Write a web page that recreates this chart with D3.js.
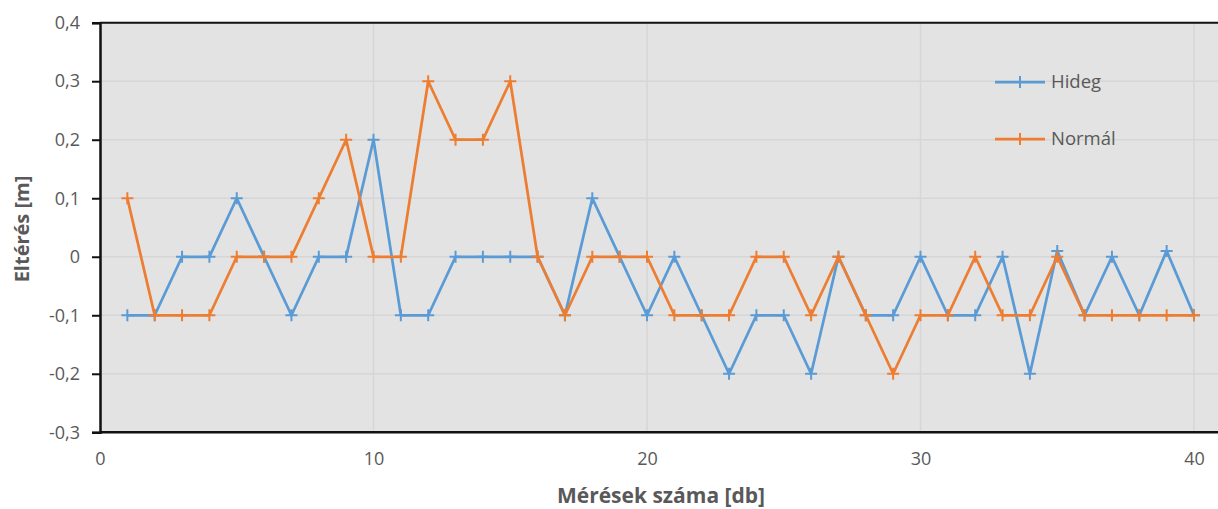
<!DOCTYPE html>
<html>
<head>
<meta charset="utf-8">
<script src="https://cdn.jsdelivr.net/npm/d3@7"></script>
<style>
  body { margin: 0; background: #fff; }
  text { font-family: "Open Sans", "Liberation Sans", sans-serif; fill: #595959; }
</style>
</head>
<body>
<div id="chart"></div>
<script>
const measurements = d3.range(1, 41);
const hideg = [-0.1, -0.1, 0, 0, 0.1, 0, -0.1, 0, 0, 0.2,
               -0.1, -0.1, 0, 0, 0, 0, -0.1, 0.1, 0, -0.1,
               0, -0.1, -0.2, -0.1, -0.1, -0.2, 0, -0.1, -0.1, 0,
               -0.1, -0.1, 0, -0.2, 0.01, -0.1, 0, -0.1, 0.01, -0.1];
const normal = [0.1, -0.1, -0.1, -0.1, 0, 0, 0, 0.1, 0.2, 0,
                0, 0.3, 0.2, 0.2, 0.3, 0, -0.1, 0, 0, 0,
                -0.1, -0.1, -0.1, 0, 0, -0.1, 0, -0.1, -0.2, -0.1,
                -0.1, 0, -0.1, -0.1, 0, -0.1, -0.1, -0.1, -0.1, -0.1];
const seriesNames = ["Hideg", "Normál"];
const xTicks = [0, 10, 20, 30, 40];
const yTicks = [-0.3, -0.2, -0.1, 0, 0.1, 0.2, 0.3, 0.4];

const width = 1218;
const height = 509;
const colors = ["#5B9BD5", "#ED7D31"];

const svg = d3.select("#chart")
    .append("svg")
    .attr("width", width)
    .attr("height", height);

const x = d3.scaleLinear().domain([0, 40]).range([100, 1194]);
const y = d3.scaleLinear().domain([-0.3, 0.4]).range([432.3, 22.7]);

// plot area background
svg.append("rect")
    .attr("x", x(0))
    .attr("y", y(0.4))
    .attr("width", width - x(0))
    .attr("height", y(-0.3) - y(0.4))
    .attr("fill", "#E3E3E3");

// gridlines
svg.append("g")
    .selectAll("line")
    .data(yTicks)
    .join("line")
    .attr("x1", x(0))
    .attr("x2", width)
    .attr("y1", d => y(d))
    .attr("y2", d => y(d))
    .attr("stroke", "#D6D6D6")
    .attr("stroke-width", 1.5);

svg.append("g")
    .selectAll("line")
    .data(xTicks.slice(1))
    .join("line")
    .attr("x1", d => x(d))
    .attr("x2", d => x(d))
    .attr("y1", y(0.4))
    .attr("y2", y(-0.3))
    .attr("stroke", "#D6D6D6")
    .attr("stroke-width", 1.5);

// top border
svg.append("line")
    .attr("x1", x(0))
    .attr("x2", width)
    .attr("y1", y(0.4))
    .attr("y2", y(0.4))
    .attr("stroke", "#111")
    .attr("stroke-width", 2);

// y axis
const yAxis = svg.append("g")
    .attr("transform", `translate(${x(0)},0)`)
    .call(d3.axisLeft(y).tickValues(yTicks).tickSize(8).tickPadding(12)
        .tickFormat(d => d === 0 ? "0" : d.toFixed(1).replace(".", ",")));
yAxis.select(".domain").attr("stroke", "#111").attr("stroke-width", 2.5);
yAxis.selectAll(".tick line").attr("stroke", "#111").attr("stroke-width", 2);
yAxis.selectAll("text").attr("font-size", 18).attr("fill", "#595959")
    .attr("font-family", "'Open Sans', sans-serif");

// x axis
const xAxis = svg.append("g")
    .attr("transform", `translate(0,${y(-0.3)})`)
    .call(d3.axisBottom(x).tickValues(xTicks).tickSize(0).tickPadding(20));
xAxis.select(".domain").remove();
svg.append("line")
    .attr("x1", x(0))
    .attr("x2", width)
    .attr("y1", y(-0.3))
    .attr("y2", y(-0.3))
    .attr("stroke", "#111")
    .attr("stroke-width", 2.5);
xAxis.selectAll("text").attr("font-size", 18).attr("fill", "#595959")
    .attr("font-family", "'Open Sans', sans-serif");

// lines and markers
const line = d3.line()
    .x((d, i) => x(measurements[i]))
    .y(d => y(d));

[hideg, normal].forEach((values, s) => {
    svg.append("path")
        .datum(values)
        .attr("fill", "none")
        .attr("stroke", colors[s])
        .attr("stroke-width", 2.75)
        .attr("stroke-linejoin", "round")
        .attr("d", line);

    svg.append("path")
        .attr("fill", "none")
        .attr("stroke", colors[s])
        .attr("stroke-width", 2)
        .attr("d", values.map((v, i) => {
            const cx = x(measurements[i]), cy = y(v);
            return `M${cx - 6},${cy}H${cx + 6}M${cx},${cy - 6}V${cy + 6}`;
        }).join(""));
});

// legend
const legend = svg.append("g").attr("transform", "translate(995,82)");
seriesNames.forEach((name, s) => {
    const g = legend.append("g").attr("transform", `translate(0,${s * 57})`);
    g.append("line").attr("x1", 0).attr("x2", 50)
        .attr("stroke", colors[s]).attr("stroke-width", 2.75);
    g.append("path").attr("d", "M25,-6V6M19,0H31")
        .attr("stroke", colors[s]).attr("stroke-width", 2);
    g.append("text").attr("x", 56).attr("dy", "0.35em")
        .attr("font-size", 18.5).text(name);
});

// axis titles
svg.append("text")
    .attr("x", 661)
    .attr("y", 503)
    .attr("text-anchor", "middle")
    .attr("font-size", 21)
    .attr("font-weight", "bold")
    .text("Mérések száma [db]");

svg.append("text")
    .attr("transform", `translate(29,229) rotate(-90)`)
    .attr("text-anchor", "middle")
    .attr("font-size", 20)
    .attr("font-weight", "bold")
    .text("Eltérés [m]");
</script>
</body>
</html>
